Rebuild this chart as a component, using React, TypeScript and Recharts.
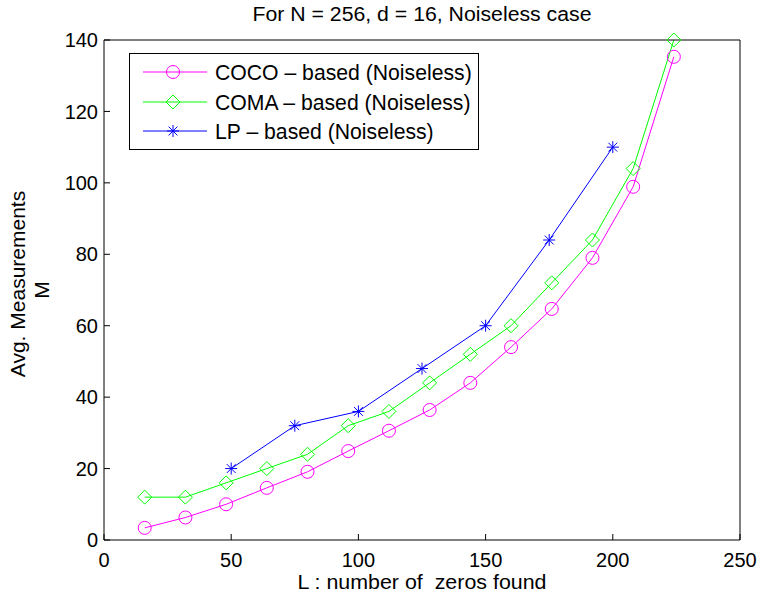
import React from 'react';
import { LineChart, Line, XAxis, YAxis, Legend } from 'recharts';

const COCO_L = [16, 32, 48, 64, 80, 96, 112, 128, 144, 160, 176, 192, 208, 224];
const COCO_M = [3.4, 6.3, 10, 14.6, 19.1, 24.9, 30.6, 36.4, 44, 54, 64.7, 79, 98.9, 135.3];
const COMA_L = [16, 32, 48, 64, 80, 96, 112, 128, 144, 160, 176, 192, 208, 224];
const COMA_M = [12, 12, 16, 20, 24, 32, 36, 44, 52, 60, 72, 84, 104, 140];
const LP_L = [50, 75, 100, 125, 150, 175, 200];
const LP_M = [20, 32, 36, 48, 60, 84, 110];

const X_TICKS = [0, 50, 100, 150, 200, 250];
const Y_TICKS = [0, 20, 40, 60, 80, 100, 120, 140];

const SERIES = [
  { name: 'COCO \u2013 based (Noiseless)', color: '#ff00ff', shape: 'circle' },
  { name: 'COMA \u2013 based (Noiseless)', color: '#00ff00', shape: 'diamond' },
  { name: 'LP \u2013 based (Noiseless)', color: '#0000ff', shape: 'star' },
];

const TITLE = 'For N = 256, d = 16, Noiseless case';
const X_LABEL = 'L : number of  zeros found';
const Y_LABEL_1 = 'Avg. Measurements';
const Y_LABEL_2 = 'M';

const toRows = (xs: number[], ys: number[]) => xs.map((x, i) => ({ x, y: ys[i] }));
const cocoData = toRows(COCO_L, COCO_M);
const comaData = toRows(COMA_L, COMA_M);
const lpData = toRows(LP_L, LP_M);

const FONT = '"Liberation Sans", Arial, Helvetica, sans-serif';
const W = 760;
const H = 594;
const PL = 104;
const PR = 740;
const PT = 40;
const PB = 540;
const TL = 6;

function Marker({ cx, cy, shape, color }: any) {
  if (cx == null || cy == null) return null;
  if (shape === 'circle') {
    return <circle cx={cx} cy={cy} r={6.5} fill="none" stroke={color} strokeWidth={1} />;
  }
  if (shape === 'diamond') {
    const s = 7;
    return (
      <polygon
        points={`${cx},${cy - s} ${cx + s},${cy} ${cx},${cy + s} ${cx - s},${cy}`}
        fill="none"
        stroke={color}
        strokeWidth={1}
      />
    );
  }
  const s = 6;
  const d = 4.4;
  return (
    <g stroke={color} strokeWidth={1}>
      <line x1={cx - s} y1={cy} x2={cx + s} y2={cy} />
      <line x1={cx} y1={cy - s} x2={cx} y2={cy + s} />
      <line x1={cx - d} y1={cy - d} x2={cx + d} y2={cy + d} />
      <line x1={cx - d} y1={cy + d} x2={cx + d} y2={cy - d} />
    </g>
  );
}

const makeDot = (shape: string, color: string) => (p: any) => (
  <Marker key={`dot-${shape}-${p.index}`} cx={p.cx} cy={p.cy} shape={shape} color={color} />
);

const BottomTick = (props: any) => {
  const { x, payload } = props;
  return (
    <g>
      <line x1={x} y1={PB} x2={x} y2={PB - TL} stroke="#000" strokeWidth={1} />
      <text x={x} y={567} textAnchor="middle" fontSize={20} fontFamily={FONT} fill="#000">
        {payload.value}
      </text>
    </g>
  );
};

const TopTick = (props: any) => {
  const { x } = props;
  return <line x1={x} y1={PT} x2={x} y2={PT + TL} stroke="#000" strokeWidth={1} />;
};

const LeftTick = (props: any) => {
  const { y, payload } = props;
  return (
    <g>
      <line x1={PL} y1={y} x2={PL + TL} y2={y} stroke="#000" strokeWidth={1} />
      <text x={98} y={y} dy="0.36em" textAnchor="end" fontSize={20} fontFamily={FONT} fill="#000">
        {payload.value}
      </text>
    </g>
  );
};

const RightTick = (props: any) => {
  const { y } = props;
  return <line x1={PR} y1={y} x2={PR - TL} y2={y} stroke="#000" strokeWidth={1} />;
};

const TitleLabel = () => (
  <text
    x={(PL + PR) / 2}
    y={21}
    textAnchor="middle"
    fontSize={20.5}
    fontFamily={FONT}
    fill="#000"
    textLength={339}
    lengthAdjust="spacingAndGlyphs"
  >
    {TITLE}
  </text>
);

const XLabel = () => (
  <text
    x={(PL + PR) / 2}
    y={589}
    textAnchor="middle"
    fontSize={21}
    fontFamily={FONT}
    fill="#000"
    style={{ whiteSpace: 'pre' }}
    textLength={249}
    lengthAdjust="spacingAndGlyphs"
  >
    {X_LABEL}
  </text>
);

const YLabel = () => {
  const cy = 284;
  return (
    <g fontFamily={FONT} fontSize={21} fill="#000">
      <text x={25} y={cy} textAnchor="middle" transform={`rotate(-90, 25, ${cy})`}>
        {Y_LABEL_1}
      </text>
      <text x={49} y={290} textAnchor="middle" transform={`rotate(-90, 49, 290)`}>
        {Y_LABEL_2}
      </text>
    </g>
  );
};

const LegendBox = () => {
  const rows = [19, 49, 78];
  return (
    <svg width={350} height={97} style={{ display: 'block' }}>
      <rect x={0.5} y={0.5} width={349} height={96} fill="#fff" stroke="#000" strokeWidth={1} />
      {SERIES.map((s, i) => (
        <g key={s.name}>
          <line x1={14} y1={rows[i]} x2={78} y2={rows[i]} stroke={s.color} strokeWidth={1} />
          <Marker cx={44} cy={rows[i]} shape={s.shape} color={s.color} />
          <text x={86} y={rows[i]} dy="0.36em" fontSize={21.2} fontFamily={FONT} fill="#000">
            {s.name}
          </text>
        </g>
      ))}
    </svg>
  );
};

export default function App() {
  return (
    <div style={{ width: W, height: H, background: '#fff' }}>
      <style>{'body{margin:0;background:#fff;}'}</style>
      <LineChart width={W} height={H} margin={{ top: 39, right: 19, bottom: 0, left: 0 }}>
        <XAxis
          xAxisId="b"
          type="number"
          dataKey="x"
          domain={[0, 250]}
          ticks={X_TICKS}
          orientation="bottom"
          height={54}
          axisLine={{ stroke: '#000', strokeWidth: 1 }}
          tickLine={false}
          tick={<BottomTick />}
          label={{ content: XLabel } as any}
        />
        <XAxis
          xAxisId="t"
          type="number"
          dataKey="x"
          domain={[0, 250]}
          ticks={X_TICKS}
          orientation="top"
          height={1}
          axisLine={{ stroke: '#000', strokeWidth: 1 }}
          tickLine={false}
          tick={<TopTick />}
          label={{ content: TitleLabel } as any}
        />
        <YAxis
          yAxisId="l"
          type="number"
          domain={[0, 140]}
          ticks={Y_TICKS}
          orientation="left"
          width={104}
          axisLine={{ stroke: '#000', strokeWidth: 1 }}
          tickLine={false}
          tick={<LeftTick />}
          label={{ content: YLabel } as any}
        />
        <YAxis
          yAxisId="r"
          type="number"
          domain={[0, 140]}
          ticks={Y_TICKS}
          orientation="right"
          width={1}
          axisLine={{ stroke: '#000', strokeWidth: 1 }}
          tickLine={false}
          tick={<RightTick />}
        />
        <Legend
          layout="vertical"
          align="center"
          verticalAlign="middle"
          content={() => <LegendBox />}
          wrapperStyle={{ left: 129, top: 53, width: 350, height: 97 }}
        />
        <Line
          xAxisId="b"
          yAxisId="l"
          data={cocoData}
          dataKey="y"
          name={SERIES[0].name}
          stroke={SERIES[0].color}
          strokeWidth={1}
          dot={makeDot('circle', SERIES[0].color)}
          activeDot={false}
          isAnimationActive={false}
        />
        <Line
          xAxisId="b"
          yAxisId="l"
          data={comaData}
          dataKey="y"
          name={SERIES[1].name}
          stroke={SERIES[1].color}
          strokeWidth={1}
          dot={makeDot('diamond', SERIES[1].color)}
          activeDot={false}
          isAnimationActive={false}
        />
        <Line
          xAxisId="b"
          yAxisId="l"
          data={lpData}
          dataKey="y"
          name={SERIES[2].name}
          stroke={SERIES[2].color}
          strokeWidth={1}
          dot={makeDot('star', SERIES[2].color)}
          activeDot={false}
          isAnimationActive={false}
        />
      </LineChart>
    </div>
  );
}
